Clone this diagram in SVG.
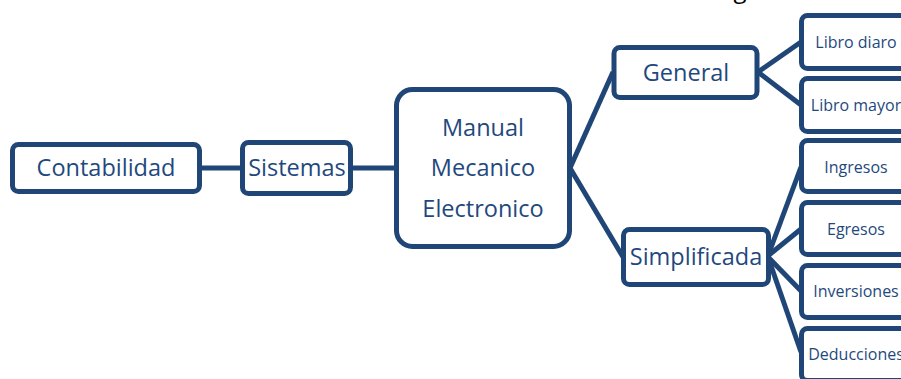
<svg xmlns="http://www.w3.org/2000/svg" width="901" height="379" viewBox="0 0 901 379">
<style>
.box{fill:#fff;stroke:#1f4677;stroke-width:5}
.ln{stroke:#1f4677;stroke-width:5;fill:none}
text{font-family:"Open Sans","Noto Sans","Liberation Sans",sans-serif;fill:#1f497d;text-anchor:middle}
.big{font-size:23.5px}
.sm{font-size:16px}
</style>
<rect width="901" height="379" fill="#fff"/>
<text x="740" y="-2" style="font-size:24px;fill:#000">g</text>
<g id="connectors">
<line class="ln" x1="200" y1="168" x2="242" y2="168"/>
<line class="ln" x1="351" y1="168" x2="396" y2="168"/>
<line class="ln" x1="570" y1="168" x2="613" y2="72"/>
<line class="ln" x1="570" y1="168" x2="623" y2="257"/>
<line class="ln" x1="758" y1="72" x2="801" y2="42"/>
<line class="ln" x1="758" y1="72" x2="801" y2="105"/>
<line class="ln" x1="769" y1="253" x2="801" y2="167"/>
<line class="ln" x1="769" y1="255" x2="801" y2="229"/>
<line class="ln" x1="769" y1="258" x2="801" y2="291"/>
<line class="ln" x1="769" y1="260" x2="801" y2="352"/>
</g>
<g id="contabilidad"><rect class="box" x="12.5" y="144.5" width="187" height="47" rx="6"/><text class="big" x="106" y="176">Contabilidad</text></g>
<g id="sistemas"><rect class="box" x="242.5" y="142.5" width="108" height="51" rx="6"/><text class="big" x="297" y="176">Sistemas</text></g>
<g id="manual"><rect class="box" x="396.5" y="89.5" width="173" height="157" rx="16"/><text class="big" x="483" y="136">Manual</text><text class="big" x="483" y="176">Mecanico</text><text class="big" x="483" y="217">Electronico</text></g>
<g id="general"><rect class="box" x="614" y="47.5" width="143" height="50" rx="6"/><text class="big" x="686" y="81">General</text></g>
<g id="simplificada"><rect class="box" x="623.5" y="229.5" width="145" height="55" rx="6"/><text class="big" x="696" y="265">Simplificada</text></g>
<g id="libro-diaro"><rect class="box" x="801.5" y="15.5" width="110" height="53" rx="6"/><text class="sm" x="856" y="48">Libro diaro</text></g>
<g id="libro-mayor"><rect class="box" x="801.5" y="78.5" width="110" height="53" rx="6"/><text class="sm" x="856" y="111">Libro mayor</text></g>
<g id="ingresos"><rect class="box" x="801.5" y="140.5" width="110" height="51" rx="6"/><text class="sm" x="856" y="173">Ingresos</text></g>
<g id="egresos"><rect class="box" x="801.5" y="202.5" width="110" height="52" rx="6"/><text class="sm" x="856" y="235">Egresos</text></g>
<g id="inversiones"><rect class="box" x="801.5" y="265.5" width="110" height="52" rx="6"/><text class="sm" x="856" y="297">Inversiones</text></g>
<g id="deducciones"><rect class="box" x="801.5" y="328.5" width="110" height="52" rx="6"/><text class="sm" x="856" y="360">Deducciones</text></g>
</svg>
